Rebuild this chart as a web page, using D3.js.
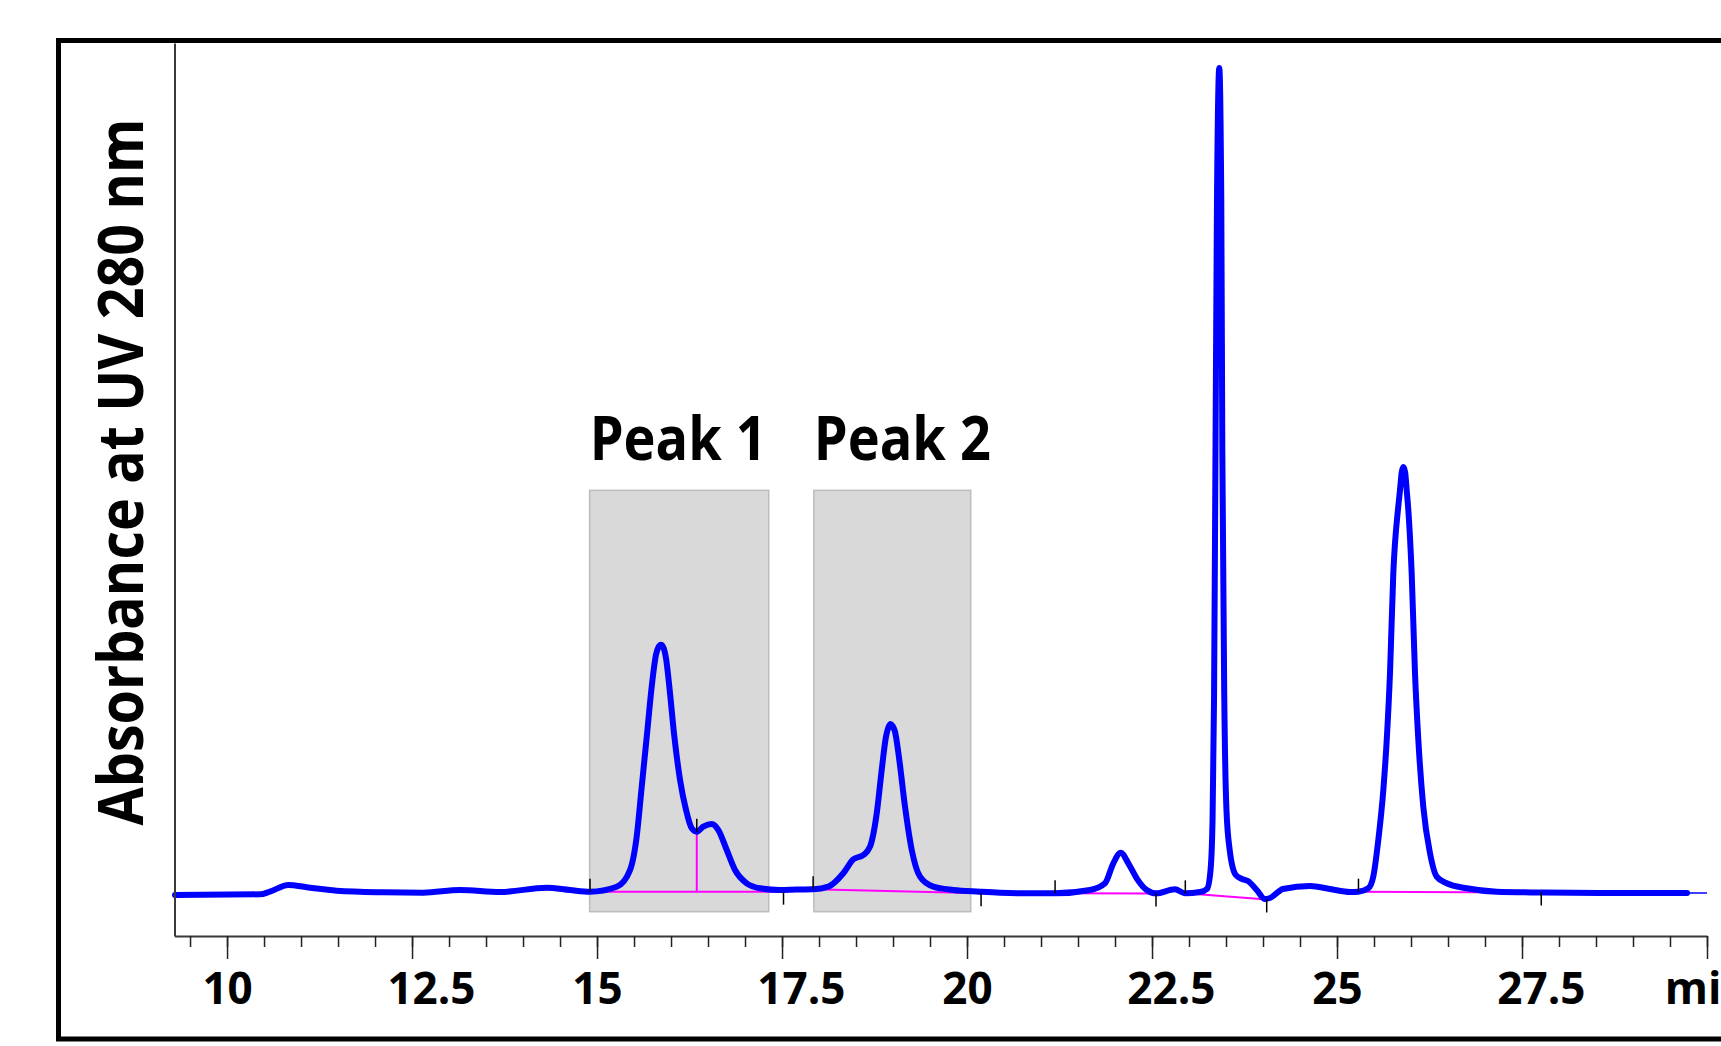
<!DOCTYPE html>
<html>
<head>
  <meta charset="UTF-8">
  <style>
    body { margin: 0; background: #fff; }
    svg { display: block; }
    text { font-family: "Open Sans", "Noto Sans", sans-serif; font-weight: bold; fill: #000; }
  </style>
</head>
<body>
<svg></svg>
<script src="https://d3js.org/d3.v7.min.js"></script>
<script>

let width = 1721, height = 1046;

// chromatogram trace: [time (min), absorbance (arb.)]
const trace = [
  [9.297, -0.06], [10.446, 0.02], [10.58, 0.34], [10.829, 1.15], [11.077, 0.87],
  [11.482, 0.46], [12.113, 0.27], [12.653, 0.22], [13.149, 0.54], [13.689, 0.3],
  [14.32, 0.82], [14.635, 0.54], [14.905, 0.34], [15.266, 0.94], [15.446, 2.95],
  [15.536, 6.97], [15.604, 12.99], [15.672, 19.02], [15.739, 25.05], [15.797, 28.9],
  [15.83, 29.8], [15.865, 30.1], [15.9, 29.7], [15.935, 28.3], [15.977, 25.05],
  [16.045, 19.02], [16.122, 13.8],
  [16.203, 10.19], [16.28, 7.98], [16.348, 7.57], [16.436, 8.17], [16.55, 8.5],
  [16.64, 7.77], [16.753, 5.36], [16.865, 2.95], [17.023, 1.35], [17.203, 0.75],
  [17.473, 0.54], [17.7, 0.6], [17.923, 0.63], [18.126, 0.94], [18.328, 2.56],
  [18.464, 4.24], [18.599, 4.76], [18.689, 5.76], [18.78, 9.79], [18.847, 15.0],
  [18.905, 19.02], [18.94, 20.2], [18.969, 20.55], [18.995, 20.3], [19.027, 19.6],
  [19.085, 16.21], [19.162, 10.58],
  [19.253, 5.36], [19.365, 2.15], [19.545, 0.94], [19.815, 0.54], [20.176, 0.34],
  [20.446, 0.22], [20.8, 0.15], [21.19, 0.14], [21.662, 0.54], [21.865, 1.35],
  [21.977, 3.76], [22.077, 5.04], [22.18, 3.76], [22.293, 1.95], [22.428, 0.54],
  [22.554, 0.14], [22.81, 0.63], [22.946, 0.14], [23.149, 0.3], [23.243, 0.66],
  [23.291, 2.95], [23.318, 8.98], [23.338, 23.4], [23.358, 53.6], [23.378, 83.7],
  [23.409, 99.6], [23.436, 83.7], [23.45, 53.6], [23.477, 23.4], [23.506, 10.19],
  [23.55, 5.36], [23.632, 2.35], [23.716, 1.87], [23.797, 1.63], [23.915, 0.54],
  [24.027, -0.54], [24.095, -0.42], [24.27, 0.66], [24.635, 1.02], [24.905, 0.66],
  [25.176, 0.3], [25.288, 0.34], [25.423, 0.75], [25.49, 2.15], [25.558, 6.57],
  [25.626, 12.6], [25.672, 18.62], [25.716, 26.66], [25.761, 38.72], [25.828, 46.75],
  [25.85, 48.6], [25.875, 50.9], [25.896, 51.5], [25.92, 50.9], [25.943, 48.6],
  [25.964, 46.3], [26.009, 38.72], [26.054, 26.66], [26.099, 18.62],
  [26.166, 10.58], [26.257, 4.97], [26.347, 2.15], [26.482, 1.35], [26.753, 0.75],
  [27.158, 0.34], [27.76, 0.24], [28.55, 0.18], [29.73, 0.18]
];
// thin end of the trace after the run stops
const traceTail = [[29.73, 0.18], [30, 0.18]];

// integration baselines (magenta)
const baselines = [
  [[14.905, 0.34], [17.52, 0.34]],
  [[17.92, 0.63], [20.19, 0.14]],
  [[21.19, 0.14], [22.554, 0.12]],
  [[22.95, 0.14], [24.05, -0.6]],
  [[25.29, 0.34], [27.76, 0.24]]
];
const dropLines = [[[16.348, 0.34], [16.348, 7.57]]];

// peak start / end marks
const startMarks = [[14.905, 0.34], [16.348, 7.57], [17.92, 0.63], [21.19, 0.14], [22.95, 0.14], [25.29, 0.34]];
const endMarks = [[17.52, 0.34], [20.19, 0.14], [22.554, 0.12], [24.05, -0.6], [27.76, 0.24]];

// collected fractions
const fractions = ["Peak 1", "Peak 2"];
const fractionStart = [14.9, 17.93];
const fractionEnd = [17.32, 20.05];
const fractionTop = 48.7, fractionBottom = -2.07;

const majorTicks = [10, 12.5, 15, 17.5, 20, 22.5, 25, 27.5, 30];
const minorTicks = d3.range(9.5, 30.01, 0.5);
const xTitle = "min";
const yTitle = "Absorbance at UV 280 nm";

let svg = d3.select("svg")
    .attr("width", width)
    .attr("height", height);

let x = d3.scaleLinear().domain([9.29, 30]).range([174.5, 1707]);
let y = d3.scaleLinear().domain([-5, 102.6]).range([936, 43]);

// outer frame
svg.append("rect")
    .attr("x", 58.5).attr("y", 40.5)
    .attr("width", 1720).attr("height", 998.5)
    .attr("fill", "none")
    .attr("stroke", "#000")
    .attr("stroke-width", 5);

// fraction boxes
svg.append("g")
  .selectAll("rect")
  .data(fractions)
  .enter()
  .append("rect")
    .attr("x", (d, i) => x(fractionStart[i]))
    .attr("y", y(fractionTop))
    .attr("width", (d, i) => x(fractionEnd[i]) - x(fractionStart[i]))
    .attr("height", y(fractionBottom) - y(fractionTop))
    .attr("fill", "#d9d9d9")
    .attr("stroke", "#bcbcbc")
    .attr("stroke-width", 1.5);

svg.append("g")
  .selectAll("text")
  .data(fractions)
  .enter()
  .append("text")
    .attr("x", (d, i) => x(fractionStart[i]))
    .attr("y", 460)
    .attr("font-size", 60)
    .attr("textLength", 177)
    .attr("lengthAdjust", "spacingAndGlyphs")
    .text(d => d);

let line = d3.line().x(d => x(d[0])).y(d => y(d[1]));

// integration baselines
svg.append("g")
  .selectAll("path")
  .data(baselines.concat(dropLines))
  .enter()
  .append("path")
    .attr("d", line)
    .attr("fill", "none")
    .attr("stroke", "#ff00ff")
    .attr("stroke-width", 2);

// trace
svg.append("path")
    .datum(trace)
    .attr("d", line.curve(d3.curveMonotoneX))
    .attr("fill", "none")
    .attr("stroke", "#0000ff")
    .attr("stroke-width", 6)
    .attr("stroke-linejoin", "round")
    .attr("stroke-linecap", "round");

svg.append("path")
    .datum(traceTail)
    .attr("d", d3.line().x(d => x(d[0])).y(d => y(d[1])))
    .attr("fill", "none")
    .attr("stroke", "#0000ff")
    .attr("stroke-width", 1.5);

// start (up) and end (down) marks
let marks = svg.append("g").attr("stroke", "#000").attr("stroke-width", 1.5);
marks.selectAll(".s")
  .data(startMarks)
  .enter()
  .append("line")
    .attr("x1", d => x(d[0])).attr("x2", d => x(d[0]))
    .attr("y1", d => y(d[1])).attr("y2", d => y(d[1]) - 13);
marks.selectAll(".e")
  .data(endMarks)
  .enter()
  .append("line")
    .attr("x1", d => x(d[0])).attr("x2", d => x(d[0]))
    .attr("y1", d => y(d[1])).attr("y2", d => y(d[1]) + 13);

// y axis (line only)
svg.append("g")
    .attr("transform", "translate(" + x.range()[0] + ",0)")
    .call(d3.axisLeft(y).tickValues([]).tickSizeOuter(0))
    .select(".domain")
    .attr("stroke", "#3a3a3a")
    .attr("stroke-width", 2);

// x axis: minor ticks
svg.append("g")
    .attr("transform", "translate(0," + y.range()[0] + ")")
    .call(d3.axisBottom(x).tickValues(minorTicks).tickSize(11).tickSizeOuter(0).tickFormat(""))
    .call(g => g.selectAll("line").attr("stroke", "#222").attr("stroke-width", 1.5))
    .select(".domain")
    .attr("stroke", "#3a3a3a")
    .attr("stroke-width", 2);

// x axis: major ticks with labels
let xAxis = svg.append("g")
    .attr("transform", "translate(0," + y.range()[0] + ")")
    .call(d3.axisBottom(x).tickValues(majorTicks).tickSize(23).tickSizeOuter(0).tickPadding(14)
        .tickFormat(d => d === 30 ? xTitle : d));
xAxis.select(".domain").remove();
xAxis.selectAll("line").attr("stroke", "#222").attr("stroke-width", 1.5);
xAxis.selectAll("text")
    .attr("font-size", 44)
    .attr("font-family", null)
    .attr("fill", "#000")
    .each(function(d) {
        let s = String(d);
        if (s.indexOf(".") > 0) {
            // integer part sits centred on the tick
            let t = d3.select(this);
            t.text(s.split(".")[0]);
            let w = this.getComputedTextLength();
            t.text(s).attr("text-anchor", "start").attr("x", -w / 2);
        }
    });

// y title
svg.append("text")
    .attr("transform", "translate(143,472) rotate(-90)")
    .attr("text-anchor", "middle")
    .attr("font-size", 62)
    .attr("textLength", 707)
    .attr("lengthAdjust", "spacingAndGlyphs")
    .text(yTitle);

</script>
</body>
</html>
